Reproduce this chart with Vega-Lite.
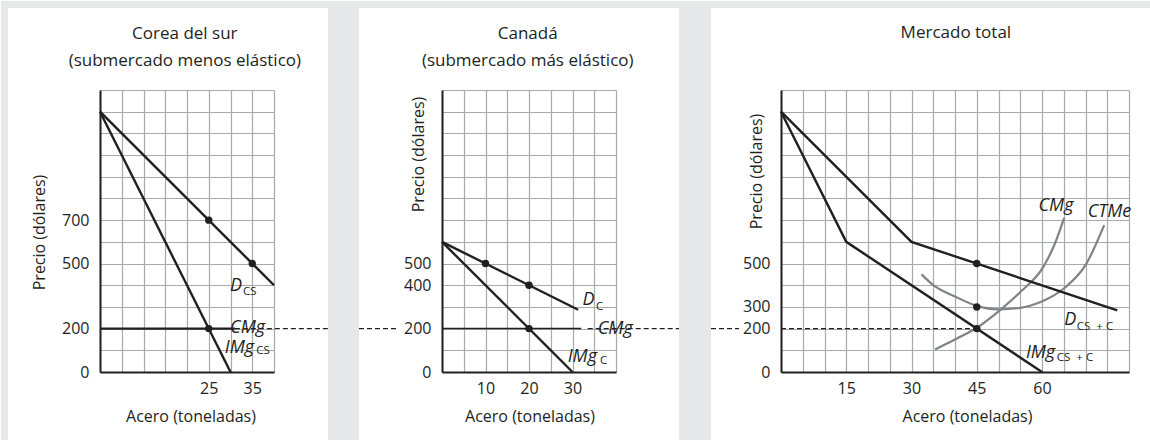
{
  "$schema": "https://vega.github.io/schema/vega-lite/v6.json",
  "background": "white",
  "padding": 0,
  "spacing": -4,
  "bounds": "full",
  "config": {
    "font": "Open Sans",
    "view": {"stroke": null},
    "axis": {"grid": true, "gridColor": "#a7a9ac", "gridWidth": 1.2, "ticks": false, "domainColor": "#231f20", "domainWidth": 2, "labelFontSize": 16, "labelColor": "#231f20", "titleFontSize": 16, "titleFontWeight": "normal", "titleColor": "#231f20", "labelOverlap": false},
    "axisY": {"labelPadding": 11, "titleAngle": 270, "titleAlign": "center", "titleBaseline": "middle"},
    "axisX": {"labelPadding": 8, "titleAlign": "center", "titleBaseline": "middle", "titleY": 44}
  },
  "hconcat": [
    {
      "width": 174, "height": 282,
      "encoding": {
        "x": {"field": "x", "type": "quantitative", "scale": {"domain": [0, 40], "nice": false, "zero": false},
          "axis": {"values": [0,5,10,15,20,25,30,35,40], "labelExpr": "indexof([25,35], datum.value) >= 0 ? datum.label : ''", "title": "Acero (toneladas)", "titleX": 90.5}},
        "y": {"field": "y", "type": "quantitative", "scale": {"domain": [0, 1300], "nice": false, "zero": false},
          "axis": {"values": [0,100,200,300,400,500,600,700,800,900,1000,1100,1200,1300], "labelExpr": "indexof([0,200,500,700], datum.value) >= 0 ? datum.label : ''", "title": "Precio (dólares)", "titleX": -61, "titleY": 142}}
      },
      "layer": [
        {"data": {"values": [
          {"x": -22.76, "x2": -21.15, "y": -318.1, "y2": 1710.3},
          {"x": -22.76, "x2": 52.41, "y": 1678, "y2": 1710.3}
        ]}, "mark": {"type": "rect", "color": "#e6e7e8"},
          "encoding": {"x2": {"field": "x2"}, "y2": {"field": "y2"}}},
        {"data": {"values": [{"x": 19.5, "y": 1558, "t": "Corea del sur"}, {"x": 19.5, "y": 1434, "t": "(submercado menos elástico)"}]},
          "mark": {"type": "text", "align": "center", "baseline": "middle", "fontSize": 17, "color": "#231f20"}, "encoding": {"text": {"field": "t"}}},
        {"data": {"values": [
          {"s": "D", "x": 0, "y": 1200}, {"s": "D", "x": 40, "y": 400},
          {"s": "IMg", "x": 0, "y": 1200}, {"s": "IMg", "x": 30, "y": 0},
          {"s": "CMg", "x": 0, "y": 200}, {"s": "CMg", "x": 31, "y": 200}
        ]}, "mark": {"type": "line", "color": "#231f20", "strokeWidth": 2.4}, "encoding": {"detail": {"field": "s"}}},
        {"data": {"values": [{"s": "CMg", "x": 31, "y": 200}, {"s": "CMg", "x": 52.41, "y": 200}]},
          "mark": {"type": "line", "color": "#231f20", "strokeWidth": 1.3, "strokeDash": [5, 3]}},
        {"data": {"values": [{"x": 25, "y": 700}, {"x": 35, "y": 500}, {"x": 25, "y": 200}]},
          "mark": {"type": "circle", "color": "#231f20", "opacity": 1, "size": 55}},
        {"data": {"values": [{"x": 29.9, "y": 396, "t": "D"}, {"x": 29.9, "y": 203, "t": "CMg"}, {"x": 28.7, "y": 111, "t": "IMg"}]},
          "mark": {"type": "text", "align": "left", "baseline": "middle", "fontSize": 18, "fontStyle": "italic", "color": "#231f20"}, "encoding": {"text": {"field": "t"}}},
        {"data": {"values": [{"x": 32.9, "y": 369, "t": "CS"}, {"x": 35.9, "y": 97, "t": "CS"}]},
          "mark": {"type": "text", "align": "left", "baseline": "middle", "fontSize": 11.5, "color": "#231f20"}, "encoding": {"text": {"field": "t"}}}
      ]
    },
    {
      "width": 174, "height": 282,
      "encoding": {
        "x": {"field": "x", "type": "quantitative", "scale": {"domain": [0, 40], "nice": false, "zero": false},
          "axis": {"values": [0,5,10,15,20,25,30,35,40], "labelExpr": "indexof([10,20,30], datum.value) >= 0 ? datum.label : ''", "title": "Acero (toneladas)", "titleX": 87.5}},
        "y": {"field": "y", "type": "quantitative", "scale": {"domain": [0, 1300], "nice": false, "zero": false},
          "axis": {"values": [0,100,200,300,400,500,600,700,800,900,1000,1100,1200,1300], "labelExpr": "indexof([0,200,400,500], datum.value) >= 0 ? datum.label : ''", "title": "Precio (dólares)", "titleX": -24, "titleY": 64}}
      },
      "layer": [
        {"data": {"values": [
          {"x": -26.21, "x2": -19.08, "y": -318.1, "y2": 1710.3},
          {"x": -26.21, "x2": 54.48, "y": 1678, "y2": 1710.3}
        ]}, "mark": {"type": "rect", "color": "#e6e7e8"},
          "encoding": {"x2": {"field": "x2"}, "y2": {"field": "y2"}}},
        {"data": {"values": [{"x": 19.7, "y": 1558, "t": "Canadá"}, {"x": 19.7, "y": 1434, "t": "(submercado más elástico)"}]},
          "mark": {"type": "text", "align": "center", "baseline": "middle", "fontSize": 17, "color": "#231f20"}, "encoding": {"text": {"field": "t"}}},
        {"data": {"values": [
          {"s": "D", "x": 0, "y": 600}, {"s": "D", "x": 31.3, "y": 287},
          {"s": "IMg", "x": 0, "y": 600}, {"s": "IMg", "x": 30, "y": 0}
        ]}, "mark": {"type": "line", "color": "#231f20", "strokeWidth": 2.4}, "encoding": {"detail": {"field": "s"}}},
        {"data": {"values": [{"x": 0, "y": 200}, {"x": 32, "y": 200}]},
          "mark": {"type": "line", "color": "#231f20", "strokeWidth": 1.5}},
        {"data": {"values": [
          {"s": "a", "x": 33.5, "y": 200}, {"s": "a", "x": 54.48, "y": 200},
          {"s": "b", "x": -19.08, "y": 200}, {"s": "b", "x": -10.11, "y": 200}
        ]}, "mark": {"type": "line", "color": "#231f20", "strokeWidth": 1.3, "strokeDash": [5, 3]}, "encoding": {"detail": {"field": "s"}}},
        {"data": {"values": [{"x": 10, "y": 500}, {"x": 20, "y": 400}, {"x": 20, "y": 200}]},
          "mark": {"type": "circle", "color": "#231f20", "opacity": 1, "size": 55}},
        {"data": {"values": [{"x": 32.3, "y": 330, "t": "D"}, {"x": 35.8, "y": 197, "t": "CMg"}, {"x": 28.9, "y": 69, "t": "IMg"}]},
          "mark": {"type": "text", "align": "left", "baseline": "middle", "fontSize": 18, "fontStyle": "italic", "color": "#231f20"}, "encoding": {"text": {"field": "t"}}},
        {"data": {"values": [{"x": 35.4, "y": 300, "t": "C"}, {"x": 36.3, "y": 51, "t": "C"}]},
          "mark": {"type": "text", "align": "left", "baseline": "middle", "fontSize": 11.5, "color": "#231f20"}, "encoding": {"text": {"field": "t"}}}
      ]
    },
    {
      "width": 348, "height": 282,
      "encoding": {
        "x": {"field": "x", "type": "quantitative", "scale": {"domain": [0, 80], "nice": false, "zero": false},
          "axis": {"values": [0,5,10,15,20,25,30,35,40,45,50,55,60,65,70,75,80], "labelExpr": "indexof([15,30,45,60], datum.value) >= 0 ? datum.label : ''", "title": "Acero (toneladas)", "titleX": 186}},
        "y": {"field": "y", "type": "quantitative", "scale": {"domain": [0, 1300], "nice": false, "zero": false},
          "axis": {"values": [0,100,200,300,400,500,600,700,800,900,1000,1100,1200,1300], "labelExpr": "indexof([0,200,300,500], datum.value) >= 0 ? datum.label : ''", "title": "Precio (dólares)", "titleX": -25, "titleY": 81}}
      },
      "layer": [
        {"data": {"values": [
          {"x": -23.45, "x2": -16.09, "y": -318.1, "y2": 1710.3},
          {"x": -23.45, "x2": 85.06, "y": 1678, "y2": 1710.3}
        ]}, "mark": {"type": "rect", "color": "#e6e7e8"},
          "encoding": {"x2": {"field": "x2"}, "y2": {"field": "y2"}}},
        {"data": {"values": [{"x": 40.2, "y": 1563, "t": "Mercado total"}]},
          "mark": {"type": "text", "align": "center", "baseline": "middle", "fontSize": 17, "color": "#231f20"}, "encoding": {"text": {"field": "t"}}},
        {"data": {"values": [
          {"s": "CMg", "x": 35.4, "y": 104}, {"s": "CMg", "x": 40.1, "y": 151}, {"s": "CMg", "x": 45, "y": 204},
          {"s": "CMg", "x": 50.1, "y": 281}, {"s": "CMg", "x": 55.2, "y": 372}, {"s": "CMg", "x": 60.2, "y": 481}, {"s": "CMg", "x": 62.9, "y": 589}, {"s": "CMg", "x": 65.1, "y": 711},
          {"s": "CTMe", "x": 32.3, "y": 450}, {"s": "CTMe", "x": 35.1, "y": 399}, {"s": "CTMe", "x": 40.1, "y": 347}, {"s": "CTMe", "x": 45, "y": 305},
          {"s": "CTMe", "x": 50.1, "y": 289}, {"s": "CTMe", "x": 55.1, "y": 296}, {"s": "CTMe", "x": 60.2, "y": 327}, {"s": "CTMe", "x": 65.1, "y": 386},
          {"s": "CTMe", "x": 70.1, "y": 496}, {"s": "CTMe", "x": 74.3, "y": 677}
        ]}, "mark": {"type": "line", "color": "#808285", "strokeWidth": 2.2, "interpolate": "monotone"}, "encoding": {"detail": {"field": "s"}}},
        {"data": {"values": [
          {"s": "D", "x": 0, "y": 1200}, {"s": "D", "x": 30, "y": 600}, {"s": "D", "x": 77.3, "y": 284},
          {"s": "IMg", "x": 0, "y": 1200}, {"s": "IMg", "x": 15, "y": 600}, {"s": "IMg", "x": 60, "y": 0}
        ]}, "mark": {"type": "line", "color": "#231f20", "strokeWidth": 2.4}, "encoding": {"detail": {"field": "s"}}},
        {"data": {"values": [
          {"s": "a", "x": 0, "y": 200}, {"s": "a", "x": 45, "y": 200},
          {"s": "b", "x": -16.09, "y": 200}, {"s": "b", "x": -9.66, "y": 200}
        ]}, "mark": {"type": "line", "color": "#231f20", "strokeWidth": 1.3, "strokeDash": [5, 3]}, "encoding": {"detail": {"field": "s"}}},
        {"data": {"values": [{"x": 45, "y": 500}, {"x": 45, "y": 300}, {"x": 45, "y": 200}]},
          "mark": {"type": "circle", "color": "#231f20", "opacity": 1, "size": 55}},
        {"data": {"values": [{"x": 59.2, "y": 765, "t": "CMg"}, {"x": 70.5, "y": 739, "t": "CTMe"}, {"x": 65.1, "y": 238, "t": "D"}, {"x": 56.3, "y": 89, "t": "IMg"}]},
          "mark": {"type": "text", "align": "left", "baseline": "middle", "fontSize": 18, "fontStyle": "italic", "color": "#231f20"}, "encoding": {"text": {"field": "t"}}},
        {"data": {"values": [{"x": 68, "y": 207, "t": "CS\u00a0\u00a0+\u00a0C"}, {"x": 63.4, "y": 66, "t": "CS\u00a0\u00a0+\u00a0C"}]},
          "mark": {"type": "text", "align": "left", "baseline": "middle", "fontSize": 11.5, "color": "#231f20"}, "encoding": {"text": {"field": "t"}}}
      ]
    }
  ]
}
